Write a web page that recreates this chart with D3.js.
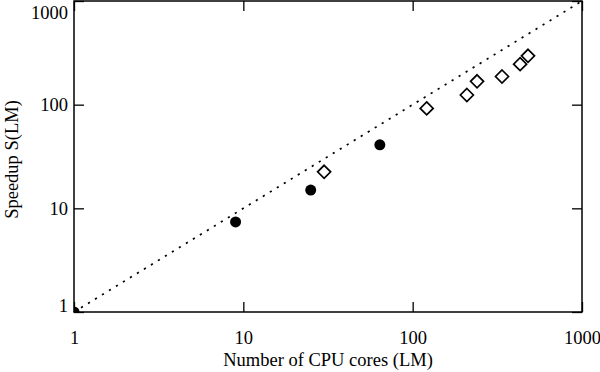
<!DOCTYPE html>
<html>
<head>
<meta charset="utf-8">
<script src="https://cdn.jsdelivr.net/npm/d3@7"></script>
<style>
  body { margin: 0; background: #fff; }
  svg { display: block; }
  text { font-family: "Liberation Serif", "DejaVu Serif", serif; fill: #000; }
</style>
</head>
<body>
<svg width="600" height="372"></svg>
<script>
// Набор данных: ядра CPU и ускорение
const coresCircle = [1, 9, 25, 64];
const speedCircle = [1, 7.4, 15, 41];
const coresDiamond = [30, 121, 209, 240, 337, 431, 480];
const speedDiamond = [22.5, 92, 124, 168, 187, 246, 296];
const tickValues = [1, 10, 100, 1000];
const tickLabels = ["1", "10", "100", "1000"];

let svg = d3.select("svg");

// Параметры области графика
const area = { left: 74, right: 582, top: 1, bottom: 312 };

let scX = d3.scaleLog().domain([1, 1000]).range([area.left, area.right]);
let scY = d3.scaleLog().domain([1, 1000]).range([area.bottom, area.top]);

// Все малые деления (2..9 в каждой декаде)
let minor = [];
for (let d of [1, 10, 100]) {
    for (let k = 2; k <= 9; k++) minor.push(d * k);
}

const g = svg.append("g");

// Идеальная линия y = x (пунктир)
g.append("path")
    .datum([1, 1000])
    .attr("fill", "none")
    .attr("stroke", "#000")
    .attr("stroke-width", 1.7)
    .attr("stroke-dasharray", "2.2 6")
    .attr("d", d3.line().x(d => scX(d)).y(d => scY(d)));

// Обрезка точек по области графика
svg.append("clipPath").attr("id", "clip")
    .append("rect")
    .attr("x", area.left).attr("y", area.top)
    .attr("width", area.right - area.left).attr("height", area.bottom - area.top);

const marks = svg.append("g").attr("clip-path", "url(#clip)");

marks.selectAll(".dot")
    .data(coresCircle.map((c, i) => [c, speedCircle[i]]))
    .enter()
    .append("circle")
    .attr("class", "dot")
    .attr("cx", d => scX(d[0]))
    .attr("cy", d => scY(d[1]))
    .attr("r", 5.5)
    .attr("fill", "#000");

marks.selectAll(".diamond")
    .data(coresDiamond.map((c, i) => [c, speedDiamond[i]]))
    .enter()
    .append("path")
    .attr("class", "diamond")
    .attr("transform", d => `translate(${scX(d[0])},${scY(d[1])})`)
    .attr("d", "M0,-6.5L6.5,0L0,6.5L-6.5,0Z")
    .attr("fill", "#fff")
    .attr("stroke", "#000")
    .attr("stroke-width", 1.7);

// Оси: деления внутрь на всех четырёх сторонах
function axis(gen, scale, translate, showLabels, pad) {
    let a = svg.append("g").attr("transform", translate);
    a.call(gen(scale).tickValues(minor).tickSize(-5).tickFormat(""));
    a.call(gen(scale).tickValues(tickValues).tickSize(-10).tickPadding(pad)
        .tickFormat((d, i) => showLabels ? tickLabels[i] : ""));
    a.select(".domain").remove();
    a.selectAll("line").attr("stroke", "#000").attr("stroke-width", 1.3);
    a.selectAll("text").style("font-size", "18.5px").attr("fill", "#000");
    return a;
}

axis(d3.axisBottom, scX, `translate(0,${area.bottom})`, true, 19);
axis(d3.axisTop, scX, `translate(0,${area.top})`, false, 0);
let yAxis = axis(d3.axisLeft, scY, `translate(${area.left},0)`, true, 6);
axis(d3.axisRight, scY, `translate(${area.right},0)`, false, 0);

// Крайние подписи оси Y сдвинуты внутрь, как в оригинале
yAxis.selectAll(".tick text")
    .filter(d => d === 1000).attr("dy", "0.95em");
yAxis.selectAll(".tick text")
    .filter(d => d === 1).attr("dy", "-0.05em");

// Рамка
svg.append("rect")
    .attr("x", area.left).attr("y", area.top)
    .attr("width", area.right - area.left).attr("height", area.bottom - area.top)
    .attr("fill", "none")
    .attr("stroke", "#000")
    .attr("stroke-width", 1.5);

// Подписи осей
svg.append("text")
    .attr("x", (area.left + area.right) / 2)
    .attr("y", 366)
    .attr("text-anchor", "middle")
    .style("font-size", "18.5px")
    .text("Number of CPU cores (LM)");

svg.append("text")
    .attr("transform", `translate(18,${(area.top + area.bottom) / 2 + 3}) rotate(-90)`)
    .attr("text-anchor", "middle")
    .style("font-size", "18.5px")
    .text("Speedup S(LM)");
</script>
</body>
</html>
